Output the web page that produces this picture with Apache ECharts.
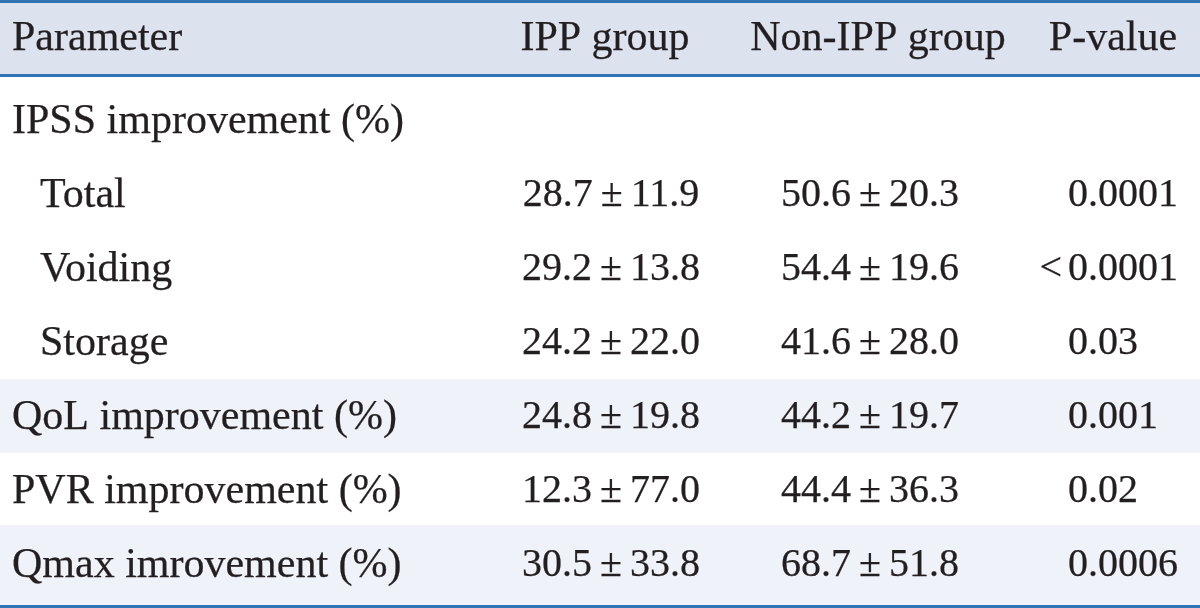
<!DOCTYPE html>
<html>
<head>
<meta charset="utf-8">
<script src="https://cdn.jsdelivr.net/npm/echarts@6.0.0/dist/echarts.min.js"></script>
<style>
  html, body { margin: 0; padding: 0; background: #ffffff; }
  #chart { width: 1200px; height: 608px; }
</style>
</head>
<body>
<div id="chart"></div>
<script>
// ---- data ----
const columns = ['Parameter', 'IPP group', 'Non-IPP group', 'P-value'];
const rowLabels = ['IPSS improvement (%)', 'Total', 'Voiding', 'Storage', 'QoL improvement (%)', 'PVR improvement (%)', 'Qmax imrovement (%)'];
const rowIsSub = [false, true, true, true, false, false, false];
const ippMean = [null, 28.7, 29.2, 24.2, 24.8, 12.3, 30.5];
const ippSD = [null, 11.9, 13.8, 22.0, 19.8, 77.0, 33.8];
const nonIppMean = [null, 50.6, 54.4, 41.6, 44.2, 44.4, 68.7];
const nonIppSD = [null, 20.3, 19.6, 28.0, 19.7, 36.3, 51.8];
const pValues = ['', '0.0001', '<0.0001', '0.03', '0.001', '0.02', '0.0006'];

// ---- style / layout ----
const FONT_LABEL = '42px "Liberation Serif", "DejaVu Serif", serif';
const FONT_NUM = '40px "Liberation Serif", "DejaVu Serif", serif';
const TEXT_COLOR = '#231f20';
const RULE_COLOR = '#2f74b3';
const HEADER_BG = '#dde2ef';
const STRIPE_BG = '#eff2f9';
const stripedRows = [4, 6]; // zero-based data-row indexes with a tinted band
const layout = {
  labelX: 12, subIndent: 28,
  ippCenter: 611, nonIppCenter: 870, pLeft: 1068,
  headerCenters: [null, 605, 878, 1113], ruleW: 3,
  capShift: -1.5, bandHalf: 37, tableBottom: 605
};

const fmt = (m, s) => m.toFixed(1) + '\u2009\u00B1\u2009' + s.toFixed(1);

const chart = echarts.init(document.getElementById('chart'), null, { renderer: 'canvas' });

function txt(x, y, text, align, font) {
  return { type: 'text', style: { x: x, y: y, text: text, font: font || FONT_LABEL, fill: TEXT_COLOR,
    stroke: TEXT_COLOR, lineWidth: 0.25, align: align, verticalAlign: 'middle' } };
}

const option = {
  animation: false,
  backgroundColor: '#ffffff',
  grid: [
    { left: 0, right: 0, top: 0, height: 77 },
    { left: 0, right: 0, top: 84.5, height: 518 }
  ],
  xAxis: [
    { type: 'value', min: 0, max: 1200, show: false, gridIndex: 0 },
    { type: 'value', min: 0, max: 1200, show: false, gridIndex: 1 }
  ],
  yAxis: [
    { type: 'category', data: ['header'], inverse: true, show: false, gridIndex: 0 },
    { type: 'category', data: rowLabels, inverse: true, show: false, gridIndex: 1 }
  ],
  series: [
    {
      // header band, rules and column titles
      type: 'custom',
      silent: true,
      xAxisIndex: 0, yAxisIndex: 0,
      data: [[0, 0]],
      clip: false,
      renderItem: function (params, api) {
        const c = api.coord([0, 0]);
        const h = api.size([0, 1])[1];
        const top = c[1] - h / 2, bot = c[1] + h / 2;
        const W = 1200, rw = layout.ruleW;
        const children = [
          { type: 'rect', shape: { x: 0, y: top + rw, width: W, height: h - 2 * rw }, style: { fill: HEADER_BG } },
          { type: 'rect', shape: { x: 0, y: top, width: W, height: rw }, style: { fill: RULE_COLOR } },
          { type: 'rect', shape: { x: 0, y: bot - rw, width: W, height: rw }, style: { fill: RULE_COLOR } }
        ];
        children.push(txt(layout.labelX, c[1], columns[0], 'left'));
        for (let k = 1; k < columns.length; k++) {
          children.push(txt(layout.headerCenters[k], c[1], columns[k], 'center'));
        }
        return { type: 'group', children: children };
      }
    },
    {
      // data rows: bands
      type: 'custom',
      silent: true,
      xAxisIndex: 1, yAxisIndex: 1,
      data: rowLabels.map((_, i) => [0, i]),
      clip: false,
      z: 1,
      renderItem: function (params, api) {
        const i = api.value(1);
        const yc = api.coord([0, i])[1] + layout.capShift;
        const W = 1200, rw = layout.ruleW;
        const last = i === rowLabels.length - 1;
        const children = [];
        if (stripedRows.indexOf(i) >= 0) {
          const t = yc - layout.bandHalf - (last ? 2 : 0);
          const b = last ? layout.tableBottom : yc + layout.bandHalf;
          children.push({ type: 'rect', shape: { x: 0, y: t, width: W, height: b - t }, style: { fill: STRIPE_BG } });
        }
        if (last) {
          children.push({ type: 'rect', shape: { x: 0, y: layout.tableBottom, width: W, height: rw }, style: { fill: RULE_COLOR } });
        }
        return { type: 'group', children: children };
      }
    },
    {
      // data rows: texts
      type: 'custom',
      silent: true,
      xAxisIndex: 1, yAxisIndex: 1,
      data: rowLabels.map((_, i) => [0, i]),
      clip: false,
      z: 2,
      renderItem: function (params, api) {
        const r = api.value(1);
        const y = api.coord([0, r])[1];
        const children = [];
        children.push(txt(layout.labelX + (rowIsSub[r] ? layout.subIndent : 0), y, rowLabels[r], 'left'));
        if (ippMean[r] != null) children.push(txt(layout.ippCenter, y, fmt(ippMean[r], ippSD[r]), 'center', FONT_NUM));
        if (nonIppMean[r] != null) children.push(txt(layout.nonIppCenter, y, fmt(nonIppMean[r], nonIppSD[r]), 'center', FONT_NUM));
        const p = pValues[r];
        if (p) {
          if (p.charAt(0) === '<') {
            children.push(txt(layout.pLeft - 6, y, '<', 'right', FONT_NUM));
            children.push(txt(layout.pLeft, y, p.slice(1), 'left', FONT_NUM));
          } else {
            children.push(txt(layout.pLeft, y, p, 'left', FONT_NUM));
          }
        }
        return { type: 'group', children: children };
      }
    }
  ]
};
chart.setOption(option);
</script>
</body>
</html>
